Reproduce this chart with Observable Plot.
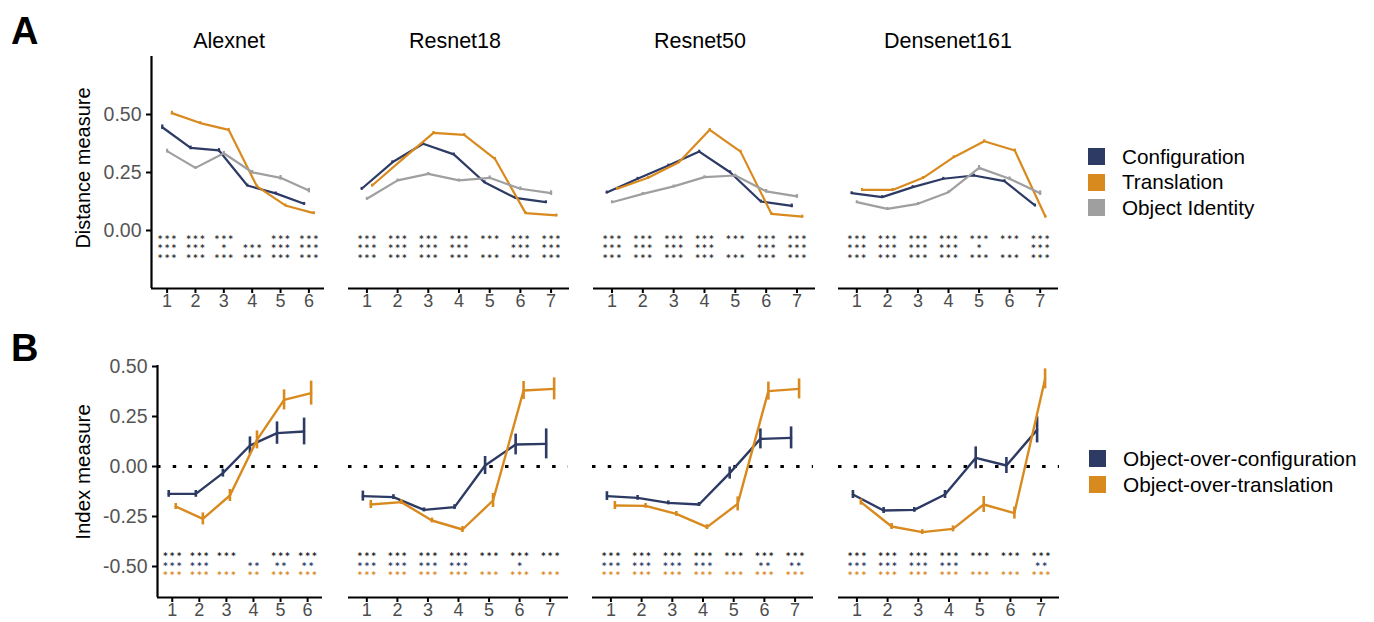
<!DOCTYPE html>
<html><head><meta charset="utf-8">
<script src="https://cdn.jsdelivr.net/npm/d3@7"></script>
<script src="https://cdn.jsdelivr.net/npm/@observablehq/plot@0.6"></script>
<style>
html,body{margin:0;padding:0;background:#fff;}
#root{position:relative;width:1374px;height:622px;overflow:hidden;background:#fff;font-family:"Liberation Sans",Arial,Helvetica,sans-serif;color:#000;}
.abs{position:absolute;white-space:nowrap;}
</style></head><body><div id="root"></div>
<script>
// ---------- DATA ----------
const models = ["Alexnet", "Resnet18", "Resnet50", "Densenet161"];
const layerCounts = [6, 7, 7, 7];
const distanceSeries = ["Configuration", "Translation", "Object Identity"];
const indexSeries = ["Object-over-configuration", "Object-over-translation"];
const yTicksA = [0, 0.25, 0.5];
const yTicksB = [-0.5, -0.25, 0, 0.25, 0.5];

// Panel A: distance measure (one inner array per model)
const configDistance = [
  [0.445, 0.356, 0.345, 0.194, 0.160, 0.115],
  [0.180, 0.294, 0.374, 0.328, 0.208, 0.141, 0.122],
  [0.164, 0.223, 0.280, 0.340, 0.251, 0.125, 0.106],
  [0.161, 0.144, 0.187, 0.223, 0.237, 0.213, 0.108]];
const translationDistance = [
  [0.506, 0.463, 0.434, 0.190, 0.108, 0.075],
  [0.194, 0.309, 0.421, 0.412, 0.309, 0.075, 0.065],
  [0.180, 0.227, 0.294, 0.434, 0.340, 0.072, 0.060],
  [0.175, 0.175, 0.227, 0.316, 0.385, 0.345, 0.060]];
const identityDistance = [
  [0.342, 0.270, 0.333, 0.251, 0.227, 0.172],
  [0.137, 0.216, 0.244, 0.216, 0.227, 0.180, 0.161],
  [0.122, 0.158, 0.190, 0.230, 0.237, 0.169, 0.147],
  [0.122, 0.093, 0.115, 0.165, 0.270, 0.223, 0.161]];
const configDistanceErr = [
  [0.010, 0.008, 0.008, 0.006, 0.006, 0.006],
  [0.006, 0.006, 0.006, 0.006, 0.006, 0.006, 0.006],
  [0.006, 0.006, 0.006, 0.006, 0.006, 0.006, 0.008],
  [0.006, 0.006, 0.006, 0.006, 0.006, 0.006, 0.006]];
const translationDistanceErr = [
  [0.008, 0.006, 0.006, 0.006, 0.006, 0.006],
  [0.006, 0.006, 0.006, 0.006, 0.006, 0.006, 0.006],
  [0.006, 0.006, 0.006, 0.006, 0.006, 0.006, 0.006],
  [0.006, 0.006, 0.006, 0.006, 0.006, 0.006, 0.006]];
const identityDistanceErr = [
  [0.008, 0.006, 0.008, 0.008, 0.010, 0.010],
  [0.006, 0.006, 0.006, 0.006, 0.008, 0.008, 0.010],
  [0.006, 0.006, 0.006, 0.006, 0.006, 0.008, 0.008],
  [0.006, 0.006, 0.006, 0.006, 0.010, 0.008, 0.010]];
// significance rows (3 comparisons) per model
const distanceStars = [
  [["***","***","***","","***","***"], ["***","***","*","***","***","***"], ["***","***","***","***","***","***"]],
  [["***","***","***","***","***","***","***"], ["***","***","***","***","","***","***"], ["***","***","***","***","***","***","***"]],
  [["***","***","***","***","***","***","***"], ["***","***","***","***","","***","***"], ["***","***","***","***","***","***","***"]],
  [["***","***","***","***","***","***","***"], ["***","***","***","***","*","","***"], ["***","***","***","***","***","***","***"]]];

// Panel B: index measure
const objOverConfig = [
  [-0.137, -0.137, -0.033, 0.105, 0.167, 0.175],
  [-0.148, -0.153, -0.217, -0.203, 0.005, 0.110, 0.113],
  [-0.148, -0.157, -0.182, -0.190, -0.033, 0.138, 0.143],
  [-0.140, -0.220, -0.217, -0.140, 0.043, 0.005, 0.183]];
const objOverConfigErr = [
  [0.017, 0.017, 0.020, 0.043, 0.056, 0.067],
  [0.025, 0.012, 0.010, 0.012, 0.045, 0.052, 0.075],
  [0.022, 0.012, 0.010, 0.010, 0.030, 0.050, 0.055],
  [0.020, 0.015, 0.012, 0.020, 0.055, 0.040, 0.065]];
const objOverTrans = [
  [-0.200, -0.262, -0.145, 0.133, 0.333, 0.367],
  [-0.190, -0.178, -0.270, -0.315, -0.170, 0.380, 0.388],
  [-0.195, -0.197, -0.237, -0.303, -0.187, 0.377, 0.388],
  [-0.178, -0.300, -0.328, -0.312, -0.190, -0.233, 0.438]];
const objOverTransErr = [
  [0.015, 0.030, 0.030, 0.045, 0.050, 0.060],
  [0.020, 0.012, 0.012, 0.015, 0.035, 0.045, 0.055],
  [0.020, 0.012, 0.012, 0.012, 0.035, 0.045, 0.050],
  [0.015, 0.015, 0.012, 0.015, 0.040, 0.030, 0.050]];
const indexStars = [
  [["***","***","***","","***","***"], ["***","***","","**","**","**"], ["***","***","***","**","***","***"]],
  [["***","***","***","***","***","***","***"], ["***","***","***","***","","*",""], ["***","***","***","***","***","***","***"]],
  [["***","***","***","***","***","***","***"], ["***","***","***","***","","**","**"], ["***","***","***","***","***","***","***"]],
  [["***","***","***","***","***","***","***"], ["***","***","***","***","","","**"], ["***","***","***","***","***","***","***"]]];

// ---------- STYLE / LAYOUT ----------
const navy = "#2c3a64", orange = "#d98a1f", grey = "#9f9f9f";
const FONT = '"Liberation Sans", Arial, Helvetica, sans-serif';
const root = document.getElementById("root");

function addDiv(text, css) {
  const d = document.createElement("div");
  d.className = "abs";
  d.textContent = text;
  Object.assign(d.style, css);
  root.appendChild(d);
  return d;
}

const framesA = {left: [151, 348, 593, 838], width: [173, 221, 222, 220], top: 56, height: 232};
const framesB = {left: [157, 348, 592, 838], width: [165, 220, 221, 221], top: 365, height: 232};
const titleCenters = [229, 455, 700, 948];
const xDomA = [[0.45, 6.55], [0.4, 7.6], [0.4, 7.6], [0.4, 7.6]];
const xDomB = [[0.455, 6.55], [0.4, 7.6], [0.4, 7.6], [0.4, 7.6]];
const yDomA = [-0.25, 0.75];
const yDomB = [-0.655, 0.505];
const STAR_FS = 8.2;

function facet({left, top, w, h, xDomain, yDomain, n, yTicks, marks, starColors}) {
  const mL = yTicks ? 72 : 2, mR = 4, mT = 4, mB = 40;
  const ticks = d3.range(1, n + 1);
  const axes = [
    Plot.ruleY([yDomain[0]], {stroke: "black", strokeWidth: 2.2}),
    Plot.axisX(ticks, {anchor: "bottom", tickSize: 5, strokeWidth: 2, stroke: "black", tickFormat: () => "", label: null}),
    Plot.axisX(ticks, {anchor: "bottom", tickSize: 0, tickPadding: 6, color: "#4d4d4d", fontSize: 18, tickFormat: d => String(d), label: null})
  ];
  if (yTicks) {
    axes.push(
      Plot.ruleX([xDomain[0]], {stroke: "black", strokeWidth: 2.2}),
      Plot.axisY(yTicks, {anchor: "left", tickSize: 5, strokeWidth: 2, stroke: "black", tickFormat: () => "", label: null}),
      Plot.axisY(yTicks, {anchor: "left", tickSize: 0, tickPadding: 10, color: "#555", fontSize: 19.5, tickFormat: d => d.toFixed(2), label: null})
    );
  }
  const svg = Plot.plot({
    width: w + mL + mR, height: h + mT + mB,
    marginLeft: mL, marginRight: mR, marginTop: mT, marginBottom: mB,
    style: {fontFamily: FONT, background: "transparent", overflow: "visible"},
    x: {type: "linear", domain: xDomain, axis: null},
    y: {type: "linear", domain: yDomain, axis: null},
    marks: [...marks, ...axes]
  });
  // colour each significance line (one tspan per comparison row), widen star spacing
  svg.querySelectorAll('text[aria-label="stars"]').forEach(t => {
    t.setAttribute("letter-spacing", "2.6px");
    t.querySelectorAll("tspan").forEach((ts, i) => ts.setAttribute("fill", starColors[i]));
  });
  svg.style.position = "absolute";
  svg.style.left = (left - mL) + "px";
  svg.style.top = (top - mT) + "px";
  root.appendChild(svg);
}

function seriesRows(values, errs, m) {
  return values[m].map((v, i) => ({layer: i + 1, value: v, err: errs[m][i]}));
}
// one multi-line label per layer: the comparison rows stacked
function starColumns(stars, m, yMid) {
  const rows = stars[m];
  return rows[0].map((_, i) => ({layer: i + 1, y: yMid, tag: "stars", s: rows.map(r => r[i] || "\u00a0").join("\n")}));
}
function starMark(stars, m, yMid, fill) {
  return Plot.text(starColumns(stars, m, yMid), {
    x: "layer", y: "y", text: "s", fill, fontSize: STAR_FS, fontWeight: "bold",
    lineHeight: 1.19, fontFamily: "DejaVu Sans", dx: 1.3, dy: 2.5, ariaLabel: d => d.tag
  });
}

// ---------- PANEL A ----------
models.forEach((name, m) => {
  const specs = [
    {vals: configDistance, errs: configDistanceErr, color: navy, dx: -0.17},
    {vals: translationDistance, errs: translationDistanceErr, color: orange, dx: 0.17},
    {vals: identityDistance, errs: identityDistanceErr, color: grey, dx: 0}
  ];
  const marks = [];
  specs.forEach(sp => {
    const rows = seriesRows(sp.vals, sp.errs, m);
    marks.push(Plot.line(rows, {x: d => d.layer + sp.dx, y: "value", stroke: sp.color, strokeWidth: 2.2}));
    marks.push(Plot.ruleX(rows, {x: d => d.layer + sp.dx, y1: d => d.value - d.err, y2: d => d.value + d.err, stroke: sp.color, strokeWidth: 2.2}));
  });
  marks.push(starMark(distanceStars, m, -0.066, "#333"));
  facet({left: framesA.left[m], top: framesA.top, w: framesA.width[m], h: framesA.height,
    xDomain: xDomA[m], yDomain: yDomA, n: layerCounts[m], yTicks: m === 0 ? yTicksA : null, marks,
    starColors: ["#333", "#333", "#333"]});
  addDiv(name, {left: (titleCenters[m] - 100) + "px", width: "200px", top: "30px", textAlign: "center", fontSize: "21.5px", lineHeight: "22px"});
});

// ---------- PANEL B ----------
models.forEach((name, m) => {
  const specs = [
    {vals: objOverConfig, errs: objOverConfigErr, color: navy, dx: -0.13},
    {vals: objOverTrans, errs: objOverTransErr, color: orange, dx: 0.13}
  ];
  const marks = [Plot.ruleY([0], {stroke: "black", strokeWidth: 3, strokeDasharray: "3.5,12.2"})];
  specs.forEach(sp => {
    const rows = seriesRows(sp.vals, sp.errs, m);
    marks.push(Plot.line(rows, {x: d => d.layer + sp.dx, y: "value", stroke: sp.color, strokeWidth: 2.4}));
    marks.push(Plot.ruleX(rows, {x: d => d.layer + sp.dx, y1: d => d.value - d.err, y2: d => d.value + d.err, stroke: sp.color, strokeWidth: 2.6}));
  });
  marks.push(starMark(indexStars, m, -0.482, "#222"));
  facet({left: framesB.left[m], top: framesB.top, w: framesB.width[m], h: framesB.height,
    xDomain: xDomB[m], yDomain: yDomB, n: layerCounts[m], yTicks: m === 0 ? yTicksB : null, marks,
    starColors: ["#222", navy, orange]});
});

// ---------- LABELS & LEGENDS ----------
addDiv("A", {left: "11px", top: "12px", fontSize: "38px", fontWeight: "bold", lineHeight: "38px"});
addDiv("B", {left: "11px", top: "329px", fontSize: "38px", fontWeight: "bold", lineHeight: "38px"});
addDiv("Distance measure", {left: "83px", top: "168px", fontSize: "20px", transform: "translate(-50%,-50%) rotate(-90deg)"});
addDiv("Index measure", {left: "83px", top: "472px", fontSize: "20.5px", transform: "translate(-50%,-50%) rotate(-90deg)"});

function legend(items, colors, x, y0, step, fs) {
  items.forEach((label, i) => {
    const y = y0 + i * step;
    addDiv("", {left: x + "px", top: y + "px", width: "17px", height: "17px", background: colors[i]});
    addDiv(label, {left: (x + 34) + "px", top: (y - 2.5) + "px", fontSize: fs + "px", lineHeight: "22px"});
  });
}
legend(distanceSeries, [navy, orange, grey], 1088, 148, 25.5, 20.7);
legend(indexSeries, [navy, orange], 1089, 450, 26, 20.8);
</script></body></html>
